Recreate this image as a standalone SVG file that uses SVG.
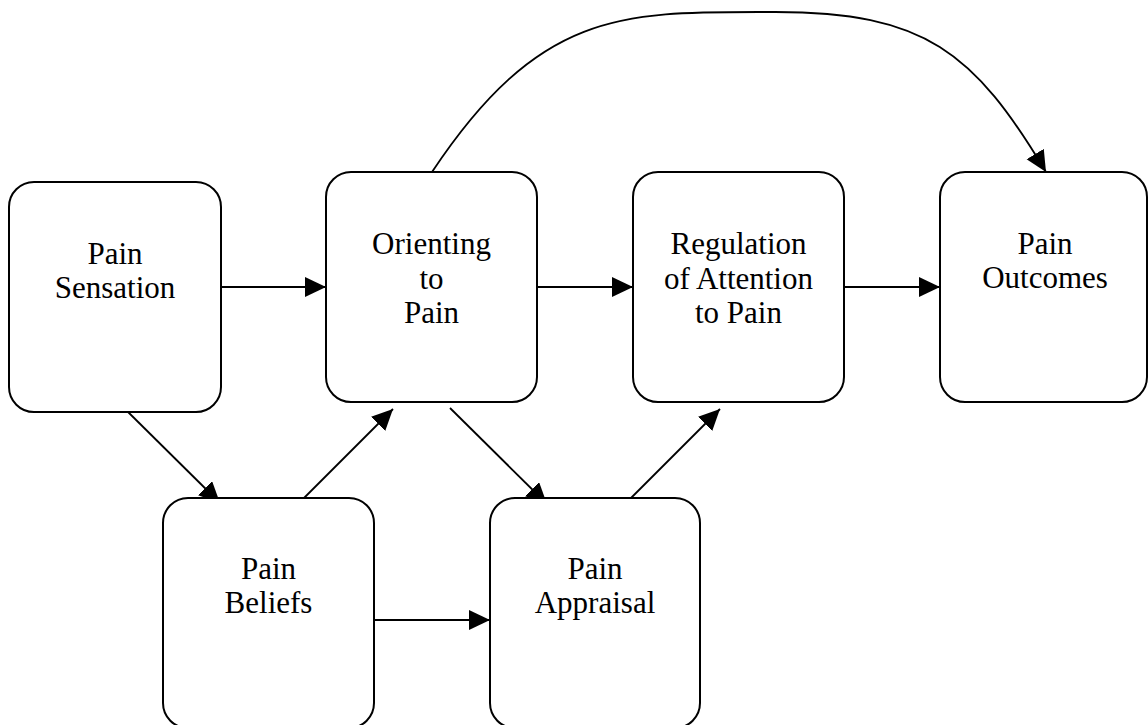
<svg xmlns="http://www.w3.org/2000/svg" width="1148" height="725" viewBox="0 0 1148 725">
<style>
.box{fill:#fff;stroke:#000;stroke-width:2}
.lbl{font-family:"Liberation Serif","Times New Roman",serif;font-size:31px;fill:#000;text-anchor:middle}
.edge{fill:none;stroke:#000;stroke-width:1.8}
</style>
<defs>
<marker id="arr" markerUnits="userSpaceOnUse" markerWidth="22" markerHeight="21" refX="21" refY="10" orient="auto">
<path d="M0,0 L21,10 L0,20 z" fill="#000"/>
</marker>
</defs>
<rect width="1148" height="725" fill="#fff"/>
<g id="connectors">
<path class="edge" marker-end="url(#arr)" d="M221,287 L326,287"/>
<path class="edge" marker-end="url(#arr)" d="M537,287 L633,287"/>
<path class="edge" marker-end="url(#arr)" d="M844,287 L940,287"/>
<path class="edge" marker-end="url(#arr)" d="M374,620 L490,620"/>
<path class="edge" marker-end="url(#arr)" d="M124,408 L220,503"/>
<path class="edge" marker-end="url(#arr)" d="M297,505 L393,409"/>
<path class="edge" marker-end="url(#arr)" d="M450,408 L547,504"/>
<path class="edge" marker-end="url(#arr)" d="M623,506 L720,409"/>
<path class="edge" marker-end="url(#arr)" d="M432,172 C542,7 625,12 775,12 C925,12 974,52 1046,172"/>
</g>
<g id="pain-sensation">
<rect class="box" x="9" y="182" width="212" height="230" rx="25"/>
<text class="lbl" x="115" y="263.5">Pain<tspan x="115" dy="34.5">Sensation</tspan></text>
</g>
<g id="orienting">
<rect class="box" x="326" y="172" width="211" height="230" rx="25"/>
<text class="lbl" x="431.5" y="254">Orienting<tspan x="431.5" dy="34.5">to</tspan><tspan x="431.5" dy="34.5">Pain</tspan></text>
</g>
<g id="regulation">
<rect class="box" x="633" y="172" width="211" height="230" rx="25"/>
<text class="lbl" x="738.5" y="254">Regulation<tspan x="738.5" dy="34.5">of Attention</tspan><tspan x="738.5" dy="34.5">to Pain</tspan></text>
</g>
<g id="pain-outcomes">
<rect class="box" x="940" y="172" width="207" height="230" rx="25"/>
<text class="lbl" x="1045" y="253.5">Pain<tspan x="1045" dy="34.5">Outcomes</tspan></text>
</g>
<g id="pain-beliefs">
<rect class="box" x="163" y="498" width="211" height="230" rx="25"/>
<text class="lbl" x="268.5" y="578.5">Pain<tspan x="268.5" dy="34.5">Beliefs</tspan></text>
</g>
<g id="pain-appraisal">
<rect class="box" x="490" y="498" width="210" height="230" rx="25"/>
<text class="lbl" x="595" y="578.5">Pain<tspan x="595" dy="34.5">Appraisal</tspan></text>
</g>
</svg>
